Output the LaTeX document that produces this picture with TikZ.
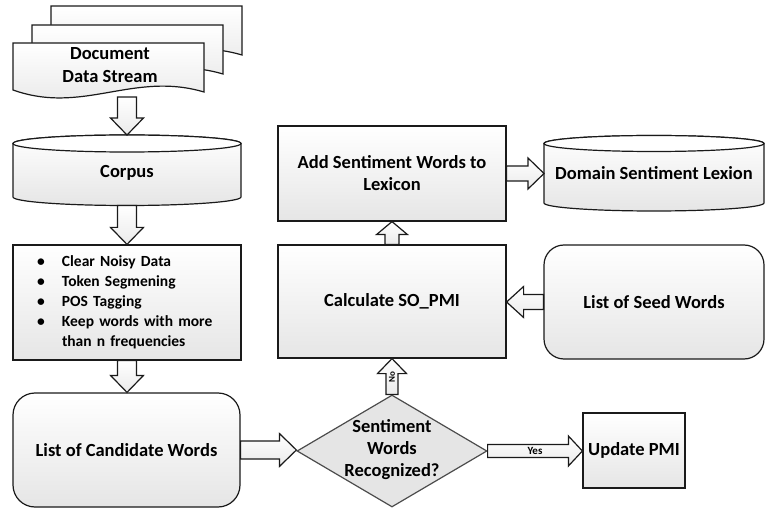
\documentclass[tikz,border=0pt]{standalone}
\usepackage{fontspec}
\setmainfont{Carlito}
\usetikzlibrary{calc,shapes.geometric}
\definecolor{ln}{HTML}{1A1A1A}
\tikzset{
  shp/.style={draw=ln, line width=1.2pt, top color=white, bottom color=black!10},
  box/.style={shp, align=center, inner sep=0pt, font=\bfseries\fontsize{18.5}{22}\selectfont},
  rbox/.style={box, rounded corners=22pt},
  lbl/.style={align=center, inner sep=0pt, font=\bfseries\fontsize{18.5}{22}\selectfont},
  barrow/.style={draw=ln, line width=1.2pt, top color=white, bottom color=black!8, line join=miter},
  dia/.style={diamond, draw=black!70, line width=1.2pt, fill=black!10, inner sep=0pt},
}
% down arrow: from, to, shaft half width, head half width, head length
\newcommand\arrD[5]{\draw[barrow] let \p1=(#1), \p2=(#2) in
  (\x1-#3pt,\y1) -- (\x1+#3pt,\y1) -- (\x1+#3pt,\y2+#5pt) -- (\x1+#4pt,\y2+#5pt) -- (\x1,\y2)
  -- (\x1-#4pt,\y2+#5pt) -- (\x1-#3pt,\y2+#5pt) -- cycle;}
\newcommand\arrU[5]{\draw[barrow] let \p1=(#1), \p2=(#2) in
  (\x1-#3pt,\y1) -- (\x1-#3pt,\y2-#5pt) -- (\x1-#4pt,\y2-#5pt) -- (\x1,\y2) -- (\x1+#4pt,\y2-#5pt)
  -- (\x1+#3pt,\y2-#5pt) -- (\x1+#3pt,\y1) -- cycle;}
\newcommand\arrR[5]{\draw[barrow] let \p1=(#1), \p2=(#2) in
  (\x1,\y1+#3pt) -- (\x2-#5pt,\y1+#3pt) -- (\x2-#5pt,\y1+#4pt) -- (\x2,\y1) -- (\x2-#5pt,\y1-#4pt)
  -- (\x2-#5pt,\y1-#3pt) -- (\x1,\y1-#3pt) -- cycle;}
\newcommand\arrL[5]{\draw[barrow] let \p1=(#1), \p2=(#2) in
  (\x1,\y1+#3pt) -- (\x2+#5pt,\y1+#3pt) -- (\x2+#5pt,\y1+#4pt) -- (\x2,\y1) -- (\x2+#5pt,\y1-#4pt)
  -- (\x2+#5pt,\y1-#3pt) -- (\x1,\y1-#3pt) -- cycle;}
% cylinder: cx, top ellipse centre y, side end y, half width, y radius
\newcommand\cylin[5]{%
  \draw[shp] (#1-#4,#2) -- (#1-#4,#3) arc[start angle=180,end angle=360,x radius=#4pt,y radius=#5pt]
    -- (#1+#4,#2) arc[start angle=0,end angle=180,x radius=#4pt,y radius=#5pt] -- cycle;
  \draw[draw=ln, line width=1.2pt, fill=white] (#1,#2) ellipse[x radius=#4pt, y radius=#5pt];}
% document sheet: top-left x, y
\newcommand\docsheet[2]{%
  \draw[shp] (#1,#2) -- (#1+191,#2) -- (#1+191,#2+49) .. controls (#1+120,#2+28) and (#1+70,#2+72) .. (#1,#2+47) -- cycle;}
\begin{document}
\begin{tikzpicture}[x=1pt,y=-1pt]
\useasboundingbox (0,0) rectangle (765,510);
% document stack
\docsheet{51}{6}
\docsheet{32}{25}
\docsheet{13}{43}
\node[lbl, font=\bfseries\fontsize{18.5}{23}\selectfont] (doc) at (110,65) {Document\\Data Stream};
\coordinate (docB) at (127,97);
% corpus
\cylin{127}{143.5}{197}{114}{8.5}
\node[lbl] (corpus) at (127,173) {Corpus};
\coordinate (corpusT) at (127,135);
\coordinate (corpusB) at (127,205.5);
% cleaning box
\node[box, minimum width=228pt, minimum height=115pt, text width=180pt, align=left,
      font=\bfseries\fontsize{15.5}{20}\selectfont] (clean) at (127,302.5)
  {\makebox[25pt][l]{\textbullet}Clear Noisy Data\\
   \makebox[25pt][l]{\textbullet}Token Segmening\\
   \makebox[25pt][l]{\textbullet}POS Tagging\\
   \makebox[25pt][l]{\textbullet}Keep words with more\\
   \hspace*{25pt}than n frequencies};
% candidate words
\node[rbox, minimum width=227pt, minimum height=114pt] (cand) at (126.5,450) {List of Candidate Words};
% diamond
\node[dia, minimum width=190pt, minimum height=112pt] (dia) at (392,451) {};
\node[lbl] (diatext) at (392,450) {Sentiment\\Words\\Recognized?};
% update PMI
\node[box, minimum width=102pt, minimum height=75pt] (upd) at (634,450.5) {Update PMI};
% calculate
\node[box, minimum width=228pt, minimum height=113pt] (calc) at (392,301.5) {Calculate SO\_PMI};
% add
\node[box, minimum width=228pt, minimum height=95pt] (add) at (392,173.5) {Add Sentiment Words to\\Lexicon};
% seed words
\node[rbox, minimum width=220pt, minimum height=114pt, rounded corners=20pt] (seed) at (654,302) {List of Seed Words};
% domain lexicon
\cylin{654}{143.5}{203}{110}{8}
\node[lbl] (domain) at (654,173) {Domain Sentiment Lexion};
\coordinate (domainW) at (544,173.5);
% arrows
\arrD{docB}{corpusT}{9.5}{16.5}{17}
\arrD{corpusB}{clean.north}{9.5}{16.5}{17}
\arrD{clean.south}{cand.north}{9.5}{16.5}{17}
\arrR{cand.east}{dia.west}{9}{16.5}{17}
\arrR{dia.east}{upd.west}{6.5}{15}{14}
\arrU{dia.north}{calc.south}{6}{14.5}{15}
\arrU{calc.north}{add.south}{7}{15.5}{13}
\arrR{add.east}{domainW}{7.5}{15.5}{16}
\arrL{seed.west}{calc.east}{7.5}{15.5}{17}
% arrow labels
\node[font=\bfseries\fontsize{11}{13}\selectfont, inner sep=0pt] (yes) at ($(dia.east)!0.5!(upd.west)$) {Yes};
\node[font=\bfseries\fontsize{9}{11}\selectfont, inner sep=0pt, rotate=90] (no) at ($(dia.north)!0.48!(calc.south)$) {No};
\end{tikzpicture}
\end{document}
